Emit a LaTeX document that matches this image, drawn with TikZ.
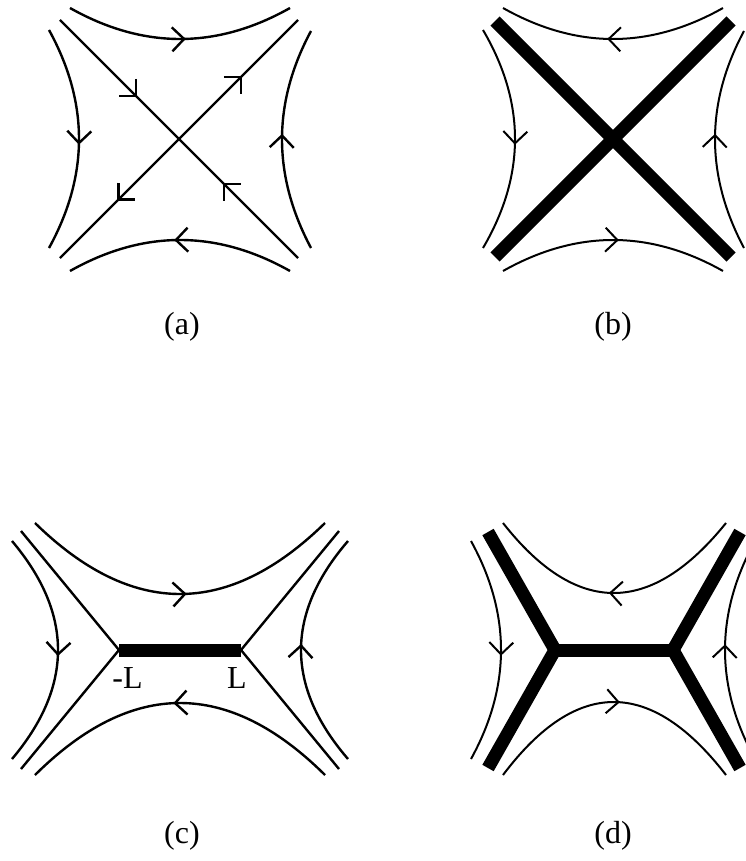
\documentclass[tikz,border=0pt]{standalone}
\usepackage{fontspec}
\setmainfont{Liberation Serif}
\usetikzlibrary{arrows.meta,decorations.markings,calc}
\newcommand{\qarc}[4][]{\draw[#1] #2 .. controls ($#2!2/3!#3$) and ($#4!2/3!#3$) .. #4;}
\begin{document}
\begin{tikzpicture}[x=1pt,y=-1pt,
  flow/.style={line width=2.4pt},
  flowb/.style={line width=2pt},
  band/.style={line width=13pt, line join=miter, line cap=butt},
  ma/.style={postaction={decorate,decoration={markings,mark=at position #1 with {\arrow{Straight Barb[length=12pt,width=24pt]}}}}},
  mr/.style={postaction={decorate,decoration={markings,mark=at position #1 with {\arrowreversed{Straight Barb[length=12pt,width=24pt]}}}}},
  lab/.style={font=\fontsize{32}{36}\selectfont, inner sep=0pt},
  llab/.style={font=\fontsize{32}{36}\selectfont, inner sep=0pt, anchor=base}
]
\useasboundingbox (0,0) rectangle (746,861);

% ---------- (a) ----------
\qarc[flow,ma=0.525]{(70,8)}{(180,70)}{(290,8)}
\qarc[flow,ma=0.525]{(290,271)}{(180,209)}{(70,271)}
\qarc[flow,ma=0.525]{(49,30)}{(109,139)}{(49,248)}
\qarc[flow,ma=0.525]{(311,248)}{(253,139)}{(311,31)}
\draw[flow,ma=0.324,mr=0.685] (60,20) -- (298,258);
\draw[flow,ma=0.765,mr=0.24] (60,258) -- (298,20);
\node[lab] (la) at (182,327) {(a)};

% ---------- (b) ----------
\begin{scope}[xshift=433]
\qarc[flowb,ma=0.525]{(290,8)}{(180,70)}{(70,8)}
\qarc[flowb,ma=0.525]{(70,271)}{(180,209)}{(290,271)}
\qarc[flowb,ma=0.525]{(50,30)}{(114,139)}{(50,248)}
\qarc[flowb,ma=0.525]{(311,248)}{(253,139)}{(311,31)}
\draw[band] (62,21) -- (298,257);
\draw[band] (62,257) -- (298,21);
\end{scope}
\node[lab] (lb) at (613,327) {(b)};

% ---------- (c) ----------
\qarc[flow,ma=0.52]{(35,523)}{(180,665)}{(325,523)}
\qarc[flow,ma=0.52]{(325,775)}{(180,631)}{(35,775)}
\qarc[flow,ma=0.525]{(12,541)}{(104,650)}{(12,759)}
\qarc[flow,ma=0.525]{(348,759)}{(254,650)}{(348,541)}
\draw[flow,line join=miter] (21,531) -- (119,650) -- (21,769);
\draw[flow,line join=miter] (339,531) -- (241,650) -- (339,769);
\draw[band] (119,650) -- (241,650);
\node[llab] (lml) at (127.5,688) {-L};
\node[llab] (lpl) at (237,688) {L};
\node[lab] (lc) at (182,836) {(c)};

% ---------- (d) ----------
\begin{scope}[xshift=433]
\qarc[flowb,ma=0.52]{(293,523)}{(180,663)}{(70,523)}
\qarc[flowb,ma=0.52]{(70,775)}{(180,629)}{(293,775)}
\qarc[flowb,ma=0.525]{(38,541)}{(98,650)}{(38,759)}
\qarc[flowb,ma=0.525]{(322,759)}{(262,650)}{(322,541)}
\draw[band] (55,532) -- (122,650) -- (55,768);
\draw[band] (307,532) -- (240,650) -- (307,768);
\draw[band] (122,650) -- (240,650);
\end{scope}
\node[lab] (ld) at (613,836) {(d)};
\end{tikzpicture}
\end{document}
